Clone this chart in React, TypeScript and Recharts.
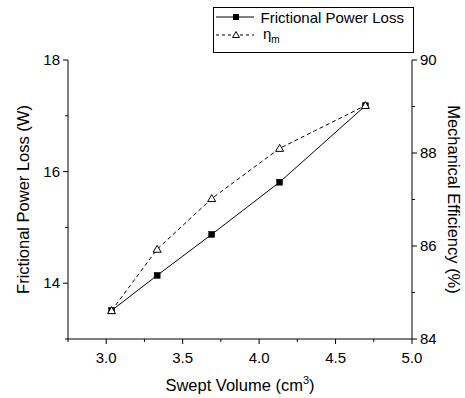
import React from 'react';
import { LineChart, Line, XAxis, YAxis, Legend, Label } from 'recharts';

const sweptVolume = [3.035, 3.333, 3.69, 4.134, 4.695];
const frictionalLoss = [13.51, 14.14, 14.875, 15.81, 17.18];
const mechEfficiency = [84.61, 85.93, 87.02, 88.1, 89.02];

const xTicks = [2.75, 3.0, 3.25, 3.5, 3.75, 4.0, 4.25, 4.5, 4.75, 5.0];
const xMajor = [3.0, 3.5, 4.0, 4.5, 5.0];
const leftTicks = [13, 14, 15, 16, 17, 18];
const leftMajor = [14, 16, 18];
const rightTicks = [84, 85, 86, 87, 88, 89, 90];
const rightMajor = [84, 86, 88, 90];

const data = sweptVolume.map((v, i) => ({ v, loss: frictionalLoss[i], eff: mechEfficiency[i] }));

const FONT = '"Liberation Sans", Arial, sans-serif';
const isMajor = (val: number, list: number[]) => list.some((m) => Math.abs(m - val) < 1e-6);

const BottomTick = (props: any) => {
  const { x, y, payload } = props;
  const major = isMajor(payload.value, xMajor);
  return (
    <g>
      <line x1={x} x2={x} y1={y} y2={y + (major ? 5 : 3)} stroke="#000" strokeWidth={1} />
      {major && (
        <text x={x} y={y + 24} textAnchor="middle" fontSize={15} fontFamily={FONT} fill="#000">
          {payload.value.toFixed(1)}
        </text>
      )}
    </g>
  );
};

const TopTick = (props: any) => {
  const { x, y, payload } = props;
  const major = isMajor(payload.value, xMajor);
  return <line x1={x} x2={x} y1={y} y2={y + (major ? 5 : 3)} stroke="#000" strokeWidth={1} />;
};

const LeftTick = (props: any) => {
  const { x, y, payload } = props;
  const major = isMajor(payload.value, leftMajor);
  return (
    <g>
      <line x1={x} x2={x - (major ? 5 : 3)} y1={y} y2={y} stroke="#000" strokeWidth={1} />
      {major && (
        <text x={x - 8} y={y + 5} textAnchor="end" fontSize={15} fontFamily={FONT} fill="#000">
          {payload.value}
        </text>
      )}
    </g>
  );
};

const RightTick = (props: any) => {
  const { x, y, payload } = props;
  const major = isMajor(payload.value, rightMajor);
  return (
    <g>
      <line x1={x} x2={x + (major ? 5 : 3)} y1={y} y2={y} stroke="#000" strokeWidth={1} />
      {major && (
        <text x={x + 8} y={y + 5} textAnchor="start" fontSize={15} fontFamily={FONT} fill="#000">
          {payload.value}
        </text>
      )}
    </g>
  );
};

const SquareDot = (props: any) => {
  const { cx, cy, index } = props;
  return <rect key={`s${index}`} x={cx - 3} y={cy - 3} width={6} height={6} fill="#000" stroke="#000" strokeWidth={0.5} />;
};

const TriangleDot = (props: any) => {
  const { cx, cy, index } = props;
  return (
    <polygon
      key={`t${index}`}
      points={`${cx},${cy - 4} ${cx - 4},${cy + 3} ${cx + 4},${cy + 3}`}
      fill="#fff"
      stroke="#000"
      strokeWidth={1}
    />
  );
};

const LegendBox = () => (
  <div style={{ width: 201, height: 46, border: '1px solid #000', boxSizing: 'border-box', background: '#fff', position: 'relative' }}>
    <svg width={201} height={46} style={{ position: 'absolute', left: -1, top: -1 }}>
      <line x1={3} x2={41} y1={10} y2={10} stroke="#000" strokeWidth={1} />
      <rect x={20} y={7} width={6} height={6} fill="#000" />
      <text x={47.5} y={15.5} fontSize={15} fontFamily={FONT} fill="#000">Frictional Power Loss</text>
      <line x1={3} x2={41} y1={28} y2={28} stroke="#000" strokeWidth={1} strokeDasharray="3 3" />
      <polygon points="23,24.5 19.5,30.5 26.5,30.5" fill="#fff" stroke="#000" strokeWidth={1} />
      <text x={50} y={32} fontSize={15} fontFamily={FONT} fill="#000">
        η<tspan dy={4} fontSize={10}>m</tspan>
      </text>
    </svg>
  </div>
);

const LeftTitle = (props: any) => {
  const { viewBox } = props;
  const cx = viewBox.x + 29;
  const cy = viewBox.y + viewBox.height / 2;
  return (
    <text x={cx} y={cy} textAnchor="middle" fontSize={16.5} fontFamily={FONT} fill="#000" transform={`rotate(-90, ${cx}, ${cy})`}>
      Frictional Power Loss (W)
    </text>
  );
};

const RightTitle = (props: any) => {
  const { viewBox } = props;
  const cx = viewBox.x + 36;
  const cy = viewBox.y + viewBox.height / 2;
  return (
    <text x={cx} y={cy} textAnchor="middle" fontSize={16.5} fontFamily={FONT} fill="#000" transform={`rotate(90, ${cx}, ${cy})`}>
      Mechanical Efficiency (%)
    </text>
  );
};

const BottomTitle = (props: any) => {
  const { viewBox } = props;
  const cx = viewBox.x + viewBox.width / 2;
  const y = viewBox.y + 52;
  return (
    <text x={cx} y={y} textAnchor="middle" fontSize={16.5} fontFamily={FONT} fill="#000">
      Swept Volume (cm<tspan dy={-7} fontSize={11}>3</tspan>
      <tspan dy={7}>)</tspan>
    </text>
  );
};

export default function App() {
  return (
    <div style={{ position: 'absolute', left: 0, top: 0, width: 465, height: 398, background: '#fff' }}>
      <LineChart width={465} height={398} data={data} margin={{ top: 60, right: 18, bottom: 29, left: 0 }}>
        <XAxis
          xAxisId="bottom"
          dataKey="v"
          type="number"
          domain={[2.75, 5]}
          ticks={xTicks}
          interval={0}
          orientation="bottom"
          height={30}
          tickSize={0}
          tickMargin={0}
          tickLine={false}
          tick={<BottomTick />}
          axisLine={{ stroke: '#000', strokeWidth: 1 }}
        >
          <Label content={<BottomTitle />} />
        </XAxis>
        <XAxis
          xAxisId="top"
          dataKey="v"
          type="number"
          domain={[2.75, 5]}
          ticks={xTicks}
          interval={0}
          orientation="top"
          height={0}
          tickSize={0}
          tickMargin={0}
          tickLine={false}
          tick={<TopTick />}
          axisLine={{ stroke: '#000', strokeWidth: 1 }}
        />
        <YAxis
          yAxisId="left"
          orientation="left"
          type="number"
          domain={[13, 18]}
          ticks={leftTicks}
          interval={0}
          width={68}
          tickSize={0}
          tickMargin={0}
          tickLine={false}
          tick={<LeftTick />}
          axisLine={{ stroke: '#000', strokeWidth: 1 }}
        >
          <Label content={<LeftTitle />} />
        </YAxis>
        <YAxis
          yAxisId="right"
          orientation="right"
          type="number"
          domain={[84, 90]}
          ticks={rightTicks}
          interval={0}
          width={35}
          tickSize={0}
          tickMargin={0}
          tickLine={false}
          tick={<RightTick />}
          axisLine={{ stroke: '#000', strokeWidth: 1 }}
        >
          <Label content={<RightTitle />} />
        </YAxis>
        <Legend
          layout="vertical"
          align="center"
          verticalAlign="middle"
          content={<LegendBox />}
          wrapperStyle={{ position: 'absolute', left: 213, top: 7, width: 201, height: 46 }}
        />
        <Line
          xAxisId="bottom"
          yAxisId="left"
          dataKey="loss"
          name="Frictional Power Loss"
          stroke="#000"
          strokeWidth={1}
          dot={<SquareDot />}
          isAnimationActive={false}
        />
        <Line
          xAxisId="bottom"
          yAxisId="right"
          dataKey="eff"
          name="ηm"
          stroke="#000"
          strokeWidth={1}
          strokeDasharray="4 3"
          dot={<TriangleDot />}
          isAnimationActive={false}
        />
      </LineChart>
    </div>
  );
}
